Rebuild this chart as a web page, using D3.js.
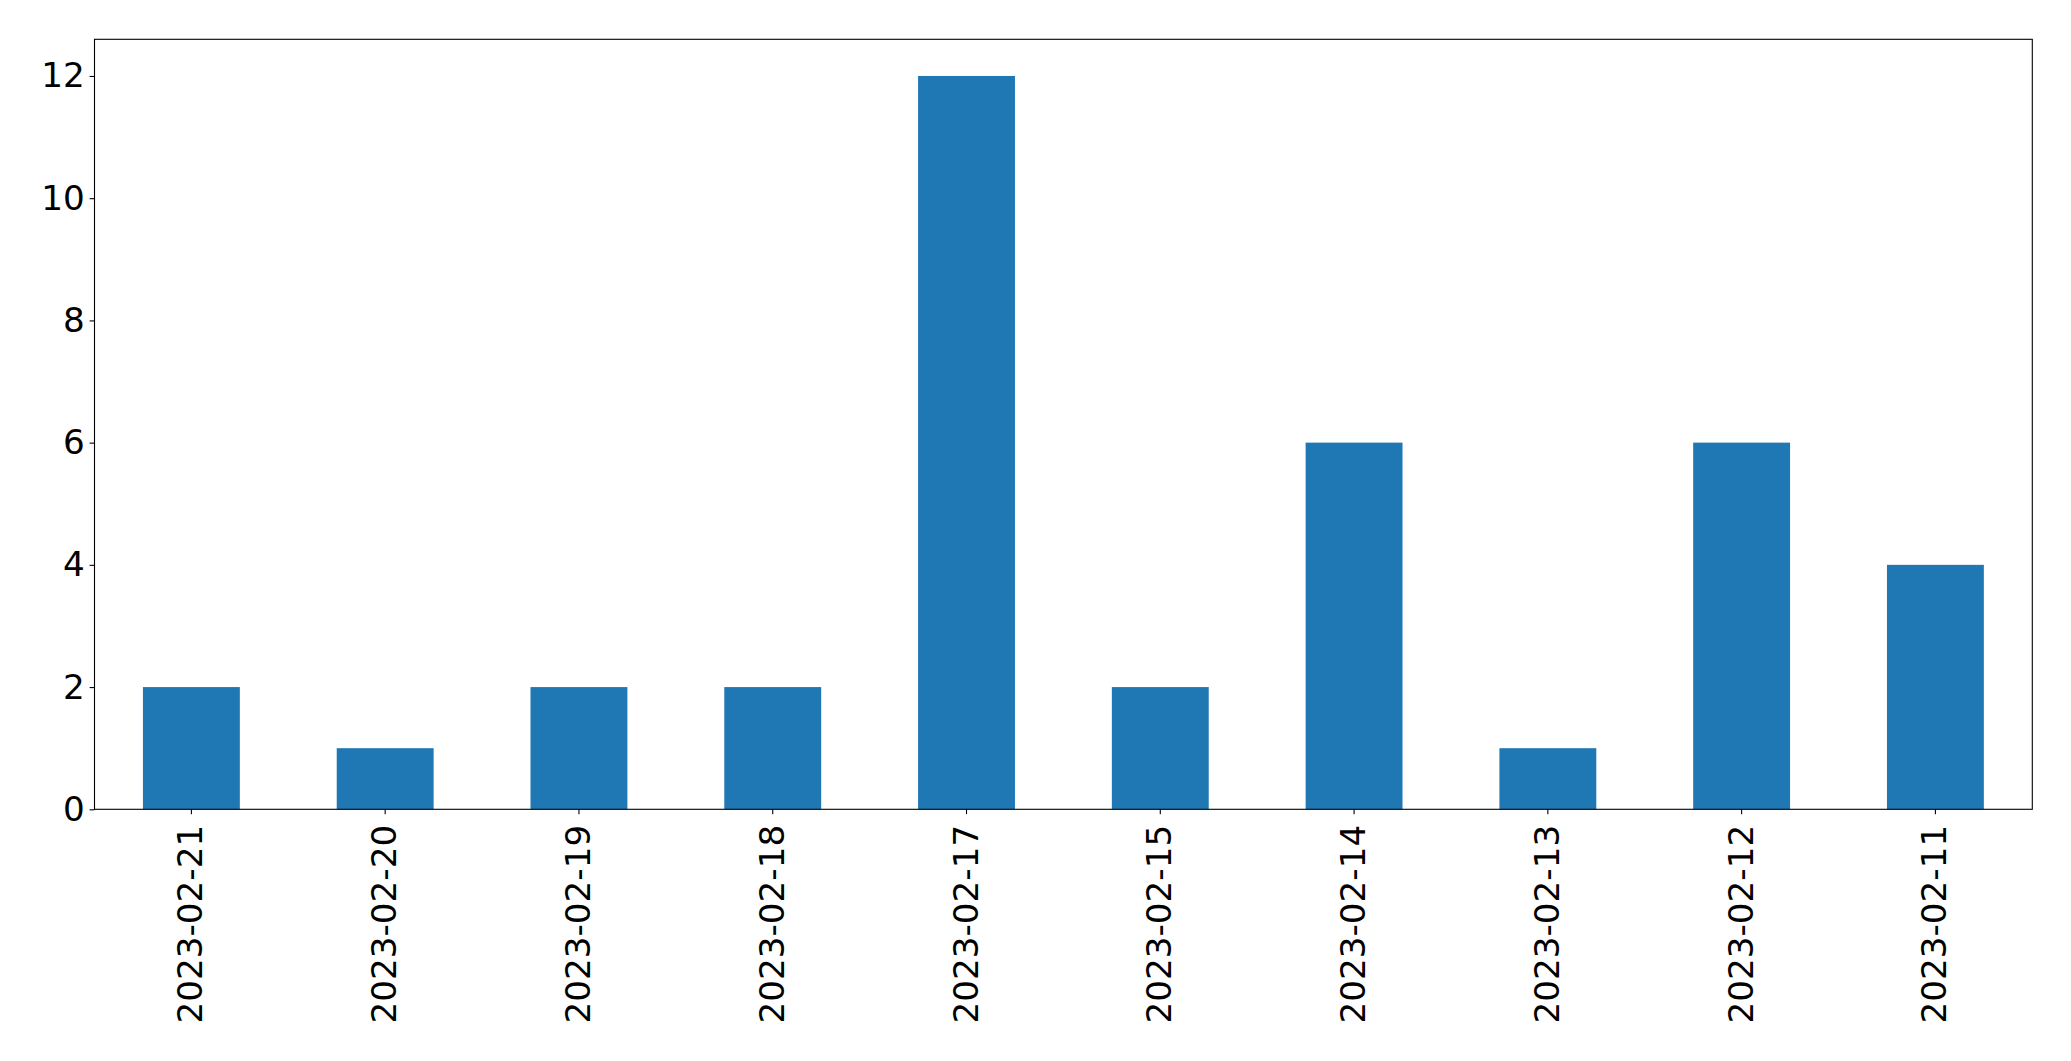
<!DOCTYPE html>
<html>
<head>
<meta charset="utf-8">
<script src="https://cdn.jsdelivr.net/npm/d3@7"></script>
<style>
  html, body { margin: 0; padding: 0; background: #fff; }
  svg { display: block; }
</style>
</head>
<body>
<svg id="chart" width="2071" height="1061"></svg>
<script>
const categories = ["2023-02-21","2023-02-20","2023-02-19","2023-02-18","2023-02-17","2023-02-15","2023-02-14","2023-02-13","2023-02-12","2023-02-11"];
const values = [2, 1, 2, 2, 12, 2, 6, 1, 6, 4];
const yTicks = [0, 2, 4, 6, 8, 10, 12];

const svg = d3.select("#chart");
const mLeft = 94.5, mRight = 2032.3, mTop = 39.3, mBottom = 809.3;
const font = "DejaVu Sans, sans-serif";
const fs = 34.2;

const x = d3.scaleBand().domain(categories).range([mLeft, mRight]).paddingInner(0.5).paddingOuter(0.25);
const y = d3.scaleLinear().domain([0, 12.6]).range([mBottom, mTop]);

svg.append("g").selectAll("rect").data(values).join("rect")
  .attr("x", (d, i) => x(categories[i]))
  .attr("width", x.bandwidth())
  .attr("y", d => y(d))
  .attr("height", d => y(0) - y(d))
  .attr("fill", "#1f77b4");

const yAxis = svg.append("g").attr("transform", `translate(${mLeft},0)`)
  .call(d3.axisLeft(y).tickValues(yTicks).tickSize(4.9).tickPadding(4.9).tickFormat(d3.format("d")));
yAxis.select(".domain").remove();
yAxis.selectAll("line").attr("stroke", "#000").attr("stroke-width", 1.1);
yAxis.selectAll("text").attr("font-family", font).attr("font-size", fs).attr("fill", "#000");

const xAxis = svg.append("g").attr("transform", `translate(0,${mBottom})`)
  .call(d3.axisBottom(x).tickSize(4.9).tickPadding(0));
xAxis.select(".domain").remove();
xAxis.selectAll("line").attr("stroke", "#000").attr("stroke-width", 1.1);
xAxis.selectAll("text")
  .attr("font-family", font).attr("font-size", fs).attr("fill", "#000")
  .attr("text-anchor", "end")
  .attr("dy", null)
  .attr("y", null)
  .attr("dominant-baseline", "central")
  .attr("transform", "translate(-1,15.5) rotate(-90)");

svg.append("rect")
  .attr("x", mLeft).attr("y", mTop)
  .attr("width", mRight - mLeft).attr("height", mBottom - mTop)
  .attr("fill", "none").attr("stroke", "#000").attr("stroke-width", 1.1);
</script>
</body>
</html>
